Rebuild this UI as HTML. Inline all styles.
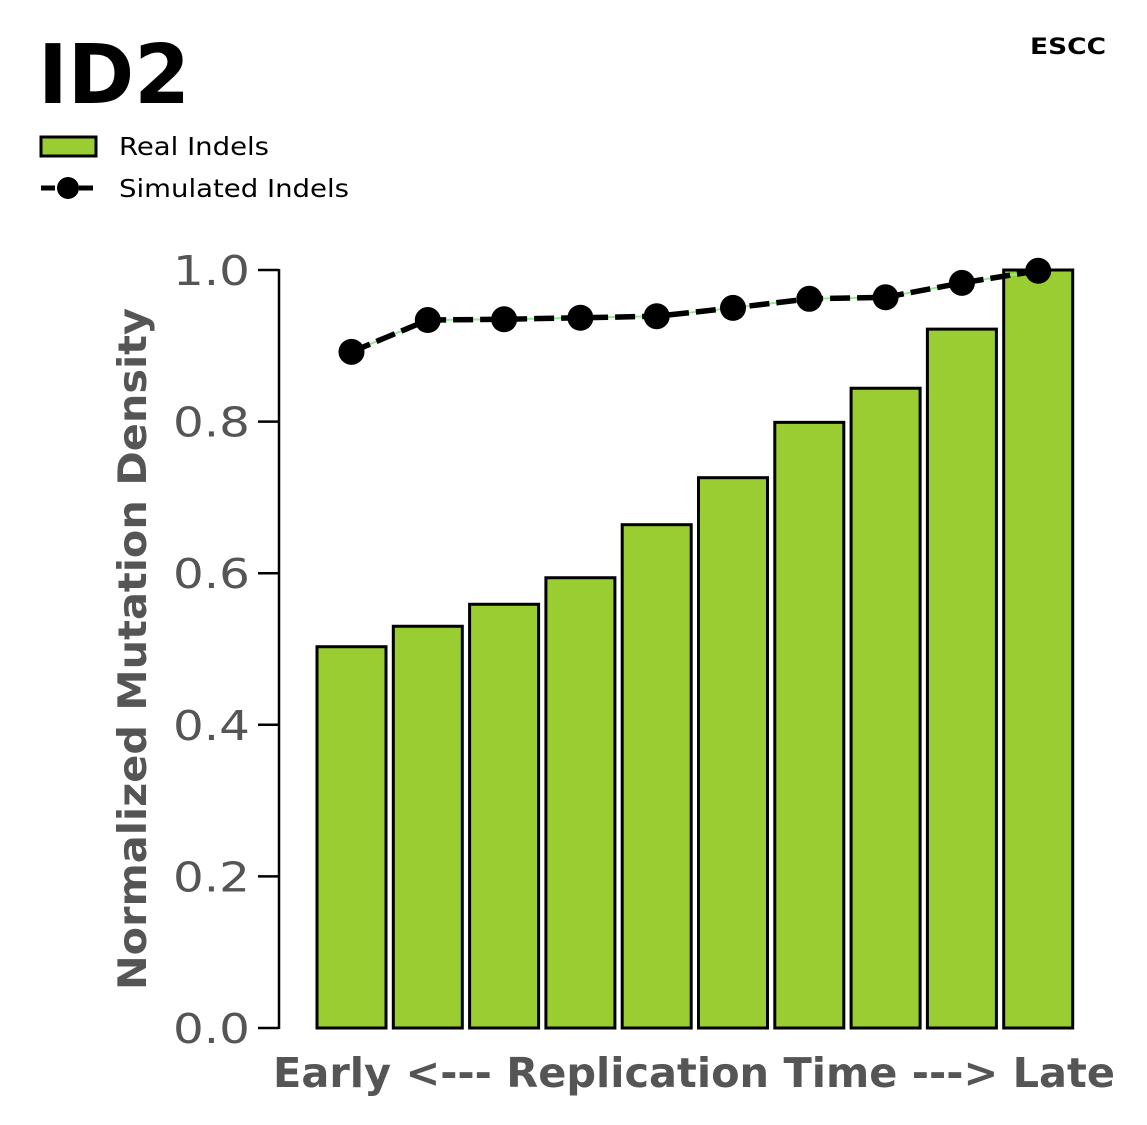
<!DOCTYPE html>
<html><head><meta charset="utf-8"><style>
body{margin:0;background:#fff;}
svg{display:block;font-family:"DejaVu Sans","Liberation Sans",sans-serif;}
</style></head><body>
<svg id="chart" width="1147" height="1125">
<text x="38" y="103" font-size="82" font-weight="bold" textLength="152" lengthAdjust="spacingAndGlyphs">ID2</text>
<text x="1030" y="54" font-size="22" font-weight="bold" textLength="76" lengthAdjust="spacingAndGlyphs">ESCC</text>
<g>
<g>
<rect x="41" y="137" width="55" height="19" fill="#9acd32" stroke="#000" stroke-width="3"/>
<text x="119" y="155" font-size="25" textLength="150" lengthAdjust="spacingAndGlyphs">Real Indels</text></g>
<g>
<line x1="41" y1="188" x2="96" y2="188" stroke="#000" stroke-width="5" stroke-dasharray="14,5"/>
<circle cx="68" cy="188" r="11" fill="#000"/>
<text x="119" y="197" font-size="25" textLength="230" lengthAdjust="spacingAndGlyphs">Simulated Indels</text></g>
</g>
<g id="plot"></g>
<text x="273" y="1087" font-size="41" font-weight="bold" fill="#555" textLength="842" lengthAdjust="spacingAndGlyphs">Early &lt;--- Replication Time ---&gt; Late</text>
<text transform="translate(146,990) rotate(-90)" font-size="39" font-weight="bold" fill="#555" textLength="682" lengthAdjust="spacingAndGlyphs">Normalized Mutation Density</text>
</svg>
<script>
const categories=[1,2,3,4,5,6,7,8,9,10];
const realValues=[0.503,0.530,0.559,0.594,0.664,0.726,0.799,0.844,0.922,1.0];
const simValues=[0.892,0.934,0.935,0.937,0.939,0.950,0.962,0.964,0.983,0.999];
const yTicks=[0,0.2,0.4,0.6,0.8,1.0];
const yTickLabels=["0.0","0.2","0.4","0.6","0.8","1.0"];
const NS="http://www.w3.org/2000/svg";
const g=document.getElementById('plot');
const y=v=>1028-v*758;
const x=i=>351.5+i*76.3;
function mk(t,a){const e=document.createElementNS(NS,t);for(const k in a)e.setAttribute(k,a[k]);g.appendChild(e);return e;}
const ax=mk('line',{x1:279,y1:269,x2:279,y2:1029,stroke:'#000','stroke-width':2.5});


yTicks.forEach((t,i)=>{
 const l=mk('line',{x1:258,y1:y(t),x2:279,y2:y(t),stroke:'#000','stroke-width':2.5});
 
 
 const tx=mk('text',{x:173,y:y(t)+15,'font-size':41,fill:'#555',textLength:77,lengthAdjust:'spacingAndGlyphs'});
 tx.textContent=yTickLabels[i];
 
 
});
categories.forEach((c,i)=>{
 const r=mk('rect',{x:x(i)-34.5,y:y(realValues[i]),width:69,height:y(0)-y(realValues[i]),fill:'#9acd32',stroke:'#000','stroke-width':3});
 
 
});
const pts=simValues.map((v,i)=>x(i)+','+y(v)).join(' ');
const l1=mk('polyline',{points:pts,fill:'none',stroke:'#90ee90','stroke-width':2});


const l2=mk('polyline',{points:pts,fill:'none',stroke:'#000','stroke-width':5.5,'stroke-dasharray':'20,7'});


simValues.forEach((v,i)=>{
 const p=mk('circle',{cx:x(i),cy:y(v),r:13,fill:'#000'});
 
 
});
</script>
</body></html>
